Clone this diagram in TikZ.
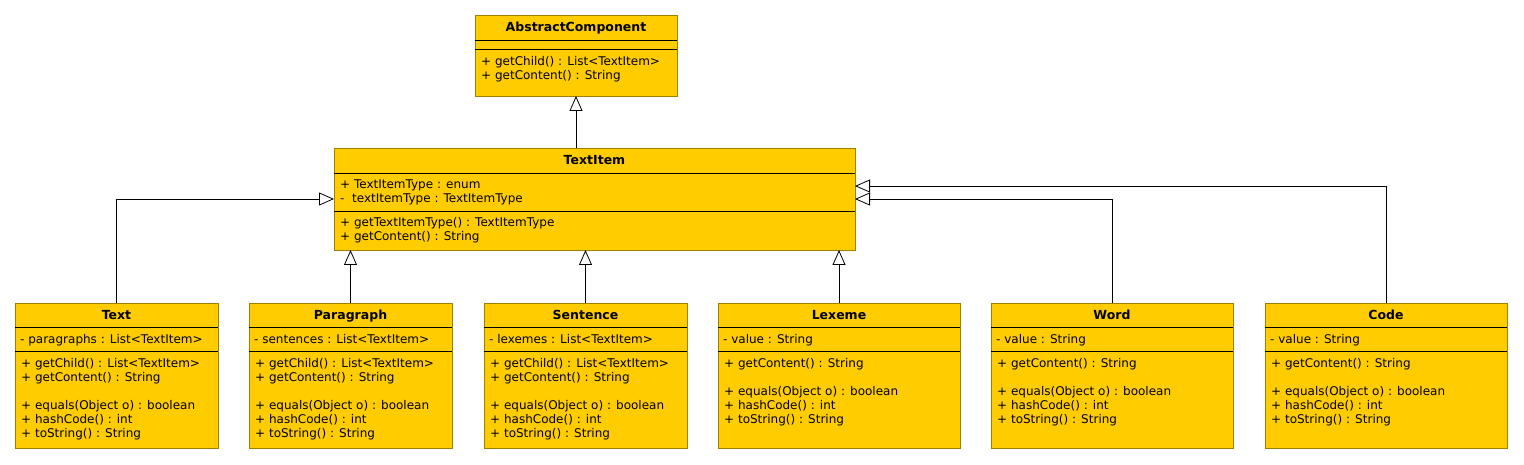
\documentclass[tikz,border=0pt]{standalone}
\usepackage{fontspec}
\setmainfont{DejaVu Sans}
\usetikzlibrary{arrows.meta}
\definecolor{umlfill}{HTML}{FFCC00}
\definecolor{umlline}{HTML}{A08000}
\newcommand\umllines[4]{%
  \foreach \l [count=\i] in {#4}{\node[txt] (#1\i) at (#2,#3+14*\i-14) {\l};}}
\begin{document}
\begin{tikzpicture}[x=1pt,y=-1pt,
 cls/.style={draw=umlline, fill=umlfill, line width=0.8pt, anchor=north west, inner sep=0pt, outer sep=0pt},
 ttl/.style={font=\bfseries\fontsize{12.5}{14}\selectfont, inner sep=0pt, anchor=base},
 txt/.style={font=\fontsize{12}{14}\selectfont, inner sep=0pt, anchor=base west},
 div/.style={line width=0.8pt, draw=black},
 inh/.style={draw=black, line width=0.8pt, -{Triangle[open,length=15pt,width=13pt,fill=white]}}
]
\useasboundingbox (0,0) rectangle (1524,465);

% AbstractComponent
\node[cls, minimum width=202pt, minimum height=81pt] (ac) at (475,15) {};
\node[ttl] (acT) at (576,31.5) {AbstractComponent};
\draw[div] (475,40) -- (677,40);
\draw[div] (475,49) -- (677,49);
\umllines{acM}{481}{65.5}{{+ getChild() : List<TextItem>},{+ getContent() : String}}

% TextItem
\node[cls, minimum width=521pt, minimum height=102pt] (ti) at (334,148) {};
\node[ttl] (tiT) at (594.5,164.5) {TextItem};
\draw[div] (334,173) -- (855,173);
\umllines{tiA}{340}{188.5}{{+ TextItemType : enum},{-\ \ textItemType : TextItemType}}
\draw[div] (334,211) -- (855,211);
\umllines{tiM}{340}{226.5}{{+ getTextItemType() : TextItemType},{+ getContent() : String}}

% Bottom classes, group 1
\foreach \n/\t/\x/\a in {text/Text/15/paragraphs, para/Paragraph/249/sentences, sent/Sentence/484/lexemes}{
  \node[cls, minimum width=203pt, minimum height=145pt] (\n) at (\x,303) {};
  \node[ttl] (\n T) at (\x+101.5,319.5) {\t};
  \draw[div] (\x,327) -- (\x+203,327);
  \node[txt] (\n A) at (\x+5,343.5) {- \a\ : List<TextItem>};
  \draw[div] (\x,351) -- (\x+203,351);
  \umllines{\n M}{\x+6}{367.5}{{+ getChild() : List<TextItem>},{+ getContent() : String}}
  \umllines{\n N}{\x+6}{409.5}{{+ equals(Object o) : boolean},{+ hashCode() : int},{+ toString() : String}}
}
% group 2
\foreach \n/\t/\x in {lex/Lexeme/718, word/Word/991, code/Code/1265}{
  \node[cls, minimum width=242pt, minimum height=145pt] (\n) at (\x,303) {};
  \node[ttl] (\n T) at (\x+121,319.5) {\t};
  \draw[div] (\x,327) -- (\x+242,327);
  \node[txt] (\n A) at (\x+5,343.5) {- value : String};
  \draw[div] (\x,351) -- (\x+242,351);
  \umllines{\n M}{\x+6}{367.5}{{+ getContent() : String}}
  \umllines{\n N}{\x+6}{395.5}{{+ equals(Object o) : boolean},{+ hashCode() : int},{+ toString() : String}}
}

% connectors
\draw[inh] (ac.south |- ti.north) -- (ac.south);
\draw[inh] (text.north) |- (ti.west);
\draw[inh] (para.north) -- (para.north |- ti.south);
\draw[inh] (sent.north) -- (sent.north |- ti.south);
\draw[inh] (lex.north) -- (lex.north |- ti.south);
\draw[inh] (word.north) |- (ti.east);
\draw[inh] (code.north) |- ([yshift=13pt]ti.east);
\end{tikzpicture}
\end{document}
